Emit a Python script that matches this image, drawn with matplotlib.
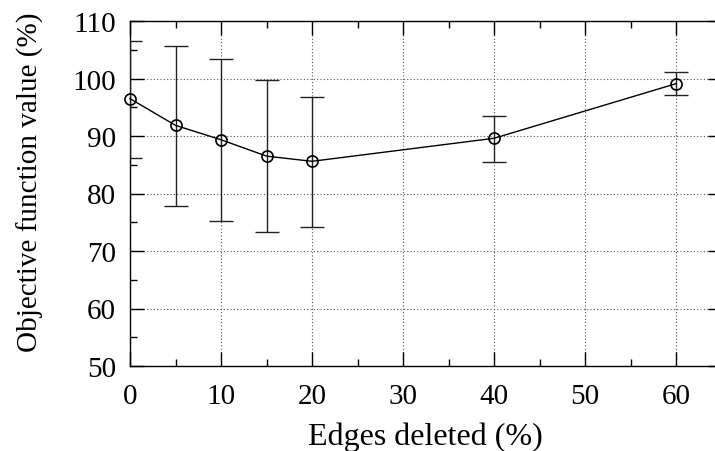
import matplotlib
matplotlib.use("Agg")
from matplotlib import pyplot as plt
from matplotlib.ticker import MultipleLocator

# data
edges_deleted = [0, 5, 10, 15, 20, 40, 60]
objective = [96.5, 91.85, 89.35, 86.5, 85.6, 89.6, 99.1]
err_low = [86.1, 77.9, 75.3, 73.35, 74.2, 85.5, 97.2]
err_high = [106.6, 105.7, 103.4, 99.7, 96.85, 93.5, 101.05]

x_ticks = [0, 10, 20, 30, 40, 50, 60]
y_ticks = [50, 60, 70, 80, 90, 100, 110]

plt.rcParams['font.family'] = ['Liberation Serif', 'DejaVu Serif']

fig = plt.figure(figsize=(7.15, 4.52), dpi=100)
ax_w = 65 * 9.1
ax_h = 367 - 22
ax = fig.add_axes([130 / 715, 1 - 367 / 452, ax_w / 715, ax_h / 452])

yerr = [[o - lo for o, lo in zip(objective, err_low)],
        [hi - o for o, hi in zip(objective, err_high)]]
ax.errorbar(edges_deleted, objective, yerr=yerr, fmt='none', ecolor='#222222',
            elinewidth=1.0, capsize=8.5, capthick=1.0, zorder=3)
ax.plot(edges_deleted, objective, color='black', lw=1.0, marker='o', ms=8,
        mfc='none', mec='black', mew=1.2, zorder=4, clip_on=False)

ax.set_xlim(0, 65)
ax.set_ylim(50, 110)
ax.set_xticks(x_ticks)
ax.set_yticks(y_ticks)
ax.xaxis.set_minor_locator(MultipleLocator(5))
ax.yaxis.set_minor_locator(MultipleLocator(5))
ax.tick_params(which='major', direction='in', length=10, width=1,
               top=True, right=True, labelsize=21)
ax.tick_params(axis='x', which='major', pad=12)
ax.tick_params(axis='y', which='major', pad=10)
ax.tick_params(which='minor', direction='in', length=5, width=1,
               top=True, right=True)
ax.grid(True, which='major', color='#555555', linestyle=(0, (1, 2)), lw=0.8)

for s in ax.spines.values():
    s.set_linewidth(1.0)

ax.set_xlabel("Edges deleted (%)", fontsize=23)
ax.set_ylabel("Objective function value (%)", fontsize=21)
ax.xaxis.set_label_coords(0.5, -(423 - 367) / ax_h)
ax.yaxis.set_label_coords(-(130 - 44) / ax_w, (367 - 182) / ax_h)

plt.savefig("out.png", dpi=100)
